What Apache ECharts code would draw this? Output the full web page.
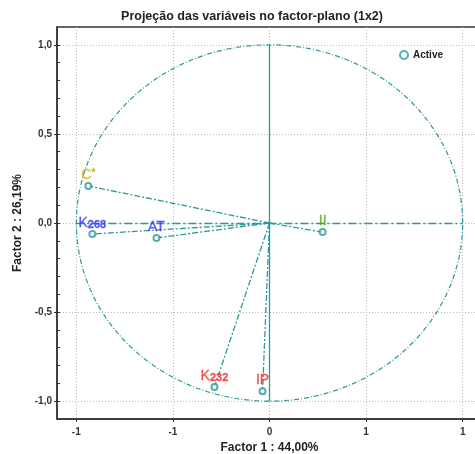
<!DOCTYPE html>
<html>
<head>
<meta charset="utf-8">
<script src="https://cdn.jsdelivr.net/npm/echarts@6/dist/echarts.min.js"></script>
<style>
  html, body { margin: 0; padding: 0; background: #fff; overflow: hidden; }
  #chart { width: 475px; height: 454px; }
</style>
</head>
<body>
<div id="chart"></div>
<script>
// Correlation circle: projection of the variables on factors 1 and 2
const variables = ['C*', 'K268', 'AT', 'II', 'K232', 'IP'];
const labelTexts = ['C{sup|*}', 'K{sub|268}', 'AT', 'II', 'K{sub|232}', 'IP'];
const labelColors = ['#d8b400', '#3434ee', '#3434ee', '#5aa814', '#f02c2c', '#f02c2c'];
const factor1 = [-0.938, -0.917, -0.585, 0.275, -0.285, -0.036];
const factor2 = [0.208, -0.062, -0.084, -0.051, -0.921, -0.944];

const xTicks = [-1, -0.5, 0, 0.5, 1];
const xTickLabels = ['-1', '-1', '0', '1', '1'];
const yTicks = [-1, -0.5, 0, 0.5, 1];
const yTickLabels = ['-1,0', '-0,5', '0,0', '0,5', '1,0'];
const yMinorTicks = [-1, -0.9, -0.8, -0.7, -0.6, -0.5, -0.4, -0.3, -0.2, -0.1, 0,
  0.1, 0.2, 0.3, 0.4, 0.5, 0.6, 0.7, 0.8, 0.9, 1];

const teal = '#2a9a98';
const font = 'Liberation Sans, Arial, sans-serif';

// unit circle outline
const circle = [];
for (let i = 0; i <= 360; i += 2) {
  const a = i * Math.PI / 180;
  circle.push([Math.cos(a), Math.sin(a)]);
}

const vectors = variables.map((v, i) => ({ coords: [[0, 0], [factor1[i], factor2[i]]] }));

const points = variables.map((v, i) => ({
  name: v,
  value: [factor1[i], factor2[i]],
  label: {
    show: true,
    position: 'top',
    distance: 0,
    formatter: labelTexts[i],
    color: labelColors[i],
    fontFamily: font,
    fontSize: 14,
    lineHeight: 14,
    textBorderColor: labelColors[i],
    textBorderWidth: 0.3,
    rich: {
      sub: { fontSize: 11, fontWeight: 'bold', color: labelColors[i], fontFamily: font, lineHeight: 14, verticalAlign: 'bottom', padding: [6, 0, 0, 0] },
      sup: { fontSize: 10, fontWeight: 'bold', color: labelColors[i], fontFamily: font, lineHeight: 14, verticalAlign: 'top' }
    }
  }
}));

const chart = echarts.init(document.getElementById('chart'), null, { renderer: 'canvas' });
chart.setOption({
  animation: false,
  backgroundColor: '#fff',
  title: {
    text: 'Projeção das variáveis no factor-plano (1x2)',
    left: 247, top: 5, textAlign: 'center',
    textStyle: { fontFamily: font, fontSize: 12.5, fontWeight: 'bold', color: '#222' }
  },
  legend: {
    left: 394, top: 45,
    itemWidth: 8, itemHeight: 8, itemGap: 6,
    data: [{ name: 'Active', icon: 'emptyCircle' }],
    textStyle: { fontFamily: font, fontSize: 10, fontWeight: 'bold', color: '#222' }
  },
  grid: {
    left: 57, top: 27, width: 425, height: 392,
    outerBoundsMode: 'none', containLabel: false,
    show: true, borderColor: '#333', borderWidth: 1.5
  },
  xAxis: {
    type: 'value', min: -1.1, max: 1.1,
    name: 'Factor 1 : 44,00%', nameLocation: 'middle', nameGap: 19,
    nameTextStyle: { fontFamily: font, fontSize: 12, fontWeight: 'bold', color: '#222' },
    axisLine: { show: true, onZero: false, lineStyle: { color: '#333', width: 1.5 } },
    axisTick: { show: true, customValues: xTicks, length: 3, lineStyle: { color: '#333' } },
    axisLabel: {
      customValues: xTicks, margin: 8,
      formatter: v => xTickLabels[xTicks.indexOf(v)],
      fontFamily: font, fontSize: 10, fontWeight: 'bold', color: '#333'
    },
    splitLine: { show: true, lineStyle: { color: '#bbb', type: [1, 2] } }
  },
  yAxis: [{
    type: 'value', min: -1.1, max: 1.1,
    name: 'Factor 2 : 26,19%', nameLocation: 'middle', nameGap: 31,
    nameTextStyle: { fontFamily: font, fontSize: 12, fontWeight: 'bold', color: '#222' },
    axisLine: { show: true, onZero: false, lineStyle: { color: '#333', width: 1.5 } },
    axisTick: { show: true, customValues: yTicks, length: 3, lineStyle: { color: '#333' } },
    axisLabel: {
      customValues: yTicks, margin: 5,
      formatter: v => yTickLabels[yTicks.indexOf(v)],
      fontFamily: font, fontSize: 10, fontWeight: 'bold', color: '#333'
    },
    splitLine: { show: true, lineStyle: { color: '#bbb', type: [1, 2] } }
  }, {
    type: 'value', min: -1.1, max: 1.1, position: 'left',
    axisLine: { show: false, onZero: false },
    axisTick: { show: true, inside: true, customValues: yMinorTicks, length: 3, lineStyle: { color: '#333' } },
    axisLabel: { show: false },
    splitLine: { show: false }
  }],
  series: [
    {
      type: 'line', data: circle, showSymbol: false, silent: true,
      lineStyle: { color: teal, width: 1.2, type: [5, 2, 1, 2] }
    },
    {
      type: 'lines', coordinateSystem: 'cartesian2d', silent: true,
      data: [{ coords: [[-1, 0], [1, 0]] }],
      lineStyle: { color: teal, width: 1.3, type: [8, 3, 2, 3], opacity: 1 }
    },
    {
      type: 'lines', coordinateSystem: 'cartesian2d', silent: true,
      data: [{ coords: [[0, 1], [0, -1]] }],
      lineStyle: { color: teal, width: 1.3, type: 'solid', opacity: 1 }
    },
    {
      type: 'lines', coordinateSystem: 'cartesian2d', silent: true,
      data: vectors,
      lineStyle: { color: teal, width: 1.3, type: [6, 2, 2, 2], opacity: 1 }
    },
    {
      name: 'Active', type: 'scatter', data: points,
      symbol: 'emptyCircle', symbolSize: 6,
      itemStyle: { color: teal, borderColor: teal, borderWidth: 1.5 },
      z: 5
    }
  ]
});
</script>
</body>
</html>
